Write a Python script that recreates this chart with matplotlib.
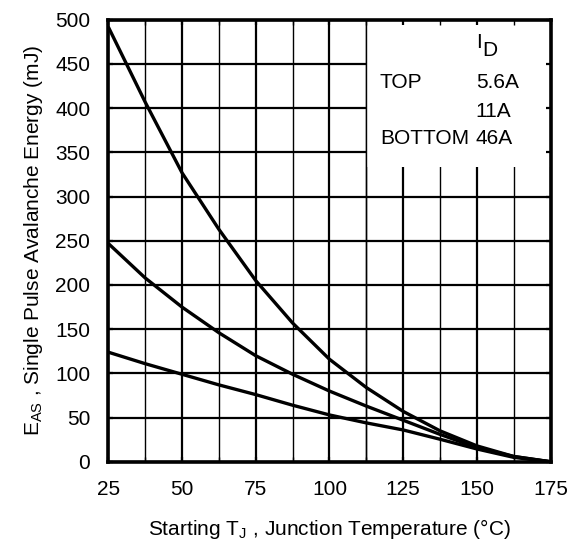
import matplotlib
matplotlib.use("Agg")
import matplotlib.pyplot as plt
from matplotlib.patches import Rectangle
from matplotlib.ticker import MultipleLocator

plt.rcParams['font.family'] = ['Liberation Sans', 'DejaVu Sans']
plt.rcParams['mathtext.fontset'] = 'custom'
plt.rcParams['mathtext.rm'] = 'Liberation Sans'

# Data
temp_c = [25, 37.5, 50, 62.5, 75, 87.5, 100, 112.5, 125, 137.5, 150, 162.5, 175]
eas_5p6a = [492, 407, 327, 263, 205, 157, 116, 84, 57, 35, 18, 6, 0]
eas_11a = [247, 208, 175, 146, 120, 99, 80, 63, 47, 31, 16, 6, 0]
eas_46a = [124, 111, 99, 87, 76, 64, 53, 44, 36, 25.5, 14.5, 5, 0]

x_ticks = [25, 50, 75, 100, 125, 150, 175]
y_ticks = [0, 50, 100, 150, 200, 250, 300, 350, 400, 450, 500]

legend_rows = [("TOP", "5.6A"), ("", "11A"), ("BOTTOM", "46A")]

fig = plt.figure(figsize=(5.79, 5.42), dpi=100)
ax = fig.add_axes([0.187, 0.148, 0.764, 0.8155])
ax.set_xlim(25, 175)
ax.set_ylim(0, 500)

# grid
for xv in [25 + 12.5 * i for i in range(13)]:
    major = (xv % 25 == 0)
    ax.axvline(xv, color='black', lw=1.6 if major else 1.0, zorder=1)
for yv in y_ticks:
    ax.axhline(yv, color='black', lw=1.6, zorder=1)

# legend box (white area covering the grid)
ax.add_patch(Rectangle((112.5, 333), 62.5, 167, facecolor='white',
                       edgecolor='none', zorder=1.5))
ax.axvline(112.5, color='black', lw=1.0, zorder=1.6)

for ys in (eas_5p6a, eas_11a, eas_46a):
    ax.plot(temp_c, ys, color='black', lw=2.4, zorder=3,
            solid_capstyle='butt', solid_joinstyle='round')

ax.set_xticks(x_ticks)
ax.set_yticks(y_ticks)
ax.xaxis.set_minor_locator(MultipleLocator(12.5))
ax.tick_params(axis='both', which='major', direction='in', length=3.6,
               width=1.6, labelsize=15, top=True, right=True, pad=13)
ax.tick_params(axis='x', which='minor', direction='in', length=3.6,
               width=1.0, top=True, bottom=True)
for s in ax.spines.values():
    s.set_linewidth(2.6)
    s.set_zorder(4)

ax.set_xlabel(r"Starting T$_\mathregular{J}$ , Junction Temperature (°C)",
              fontsize=15, labelpad=13)
ax.set_ylabel(r"E$_\mathregular{AS}$ , Single Pulse Avalanche Energy (mJ)",
              fontsize=15, labelpad=7)

# legend text
ax.text(149.9, 468, "I", fontsize=15, ha='left', va='baseline', zorder=5)
ax.text(151.8, 459, "D", fontsize=15, ha='left', va='baseline', zorder=5)
ys_leg = [423, 390, 360]
for (lab, val), yl in zip(legend_rows, ys_leg):
    if lab:
        ax.text(117.1, yl, lab, fontsize=15, ha='left', va='baseline', zorder=5)
    ax.text(149.6, yl, val, fontsize=15, ha='left', va='baseline', zorder=5)

fig.savefig("out.png", dpi=100)
